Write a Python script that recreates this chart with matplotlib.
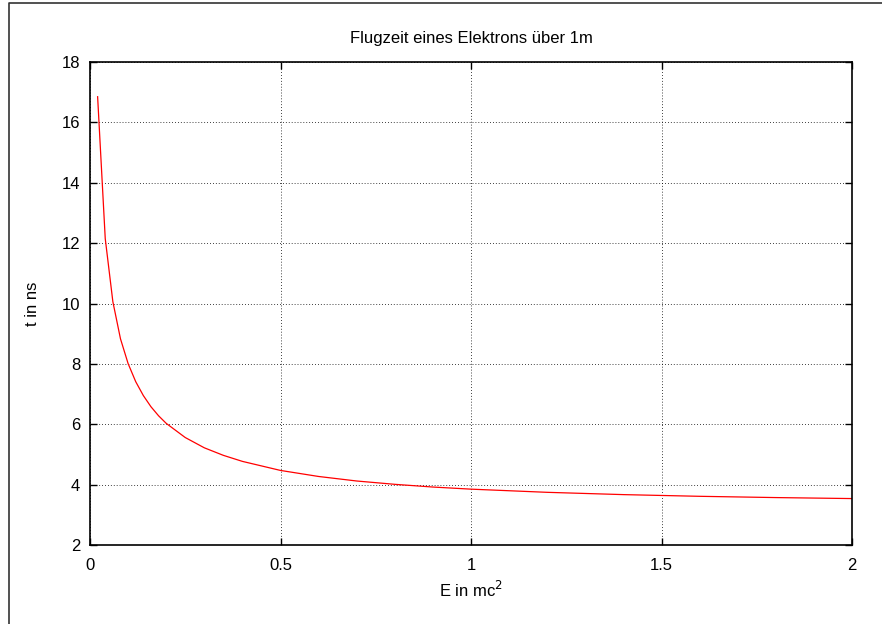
import numpy as np
import matplotlib.pyplot as plt
from matplotlib.lines import Line2D

plt.rcParams['font.family'] = ['Liberation Sans', 'DejaVu Sans']

# kinetic energy in mc^2 and flight time over 1 m in ns
energy = [0.02, 0.04, 0.06, 0.08, 0.10, 0.12, 0.14, 0.16, 0.18, 0.20,
          0.25, 0.30, 0.35, 0.40, 0.5, 0.6, 0.7, 0.8, 0.9, 1.0,
          1.2, 1.4, 1.6, 1.8, 2.0]
flightTime = [16.85, 12.15, 10.06, 8.83, 8.01, 7.41, 6.95, 6.58, 6.28, 6.03,
              5.56, 5.22, 4.97, 4.77, 4.47, 4.27, 4.12, 4.01, 3.92, 3.85,
              3.745, 3.669, 3.613, 3.571, 3.538]

xTicks = [0, 0.5, 1, 1.5, 2]
xTickLabels = ["0", "0.5", "1", "1.5", "2"]
yTicks = [2, 4, 6, 8, 10, 12, 14, 16, 18]

fig = plt.figure(figsize=(8.82, 6.24), dpi=100)
ax = fig.add_axes([90/882, 79/624, 762/882, 483/624])

ax.plot(energy, flightTime, color='red', linewidth=0.9)

ax.set_xlim(0, 2)
ax.set_ylim(2, 18)
ax.set_xticks(xTicks)
ax.set_xticklabels(xTickLabels)
ax.set_yticks(yTicks)
ax.tick_params(direction='in', length=5, width=1, labelsize=12,
               top=True, right=True, color='black')
ax.tick_params(axis='y', pad=7)
ax.tick_params(axis='x', pad=9)
ax.grid(True, linestyle=(0, (1, 2.5)), color='black', linewidth=0.6)
for spine in ax.spines.values():
    spine.set_linewidth(1.2)

ax.set_title("Flugzeit eines Elektrons über 1m", fontsize=12, pad=14)
ax.set_xlabel("E in mc$^2$", fontsize=12)
ax.set_ylabel("t in ns", fontsize=12)
ax.xaxis.set_label_coords(0.5, -0.073)
ax.yaxis.set_label_coords(-0.066, 0.5)

# outer frame (left and top edges visible)
fig.add_artist(Line2D([9/882, 9/882, 1.0], [0.0, 1 - 3/624, 1 - 3/624],
                      transform=fig.transFigure, color='#333333', linewidth=1.2))

fig.savefig("out.png", dpi=100)
